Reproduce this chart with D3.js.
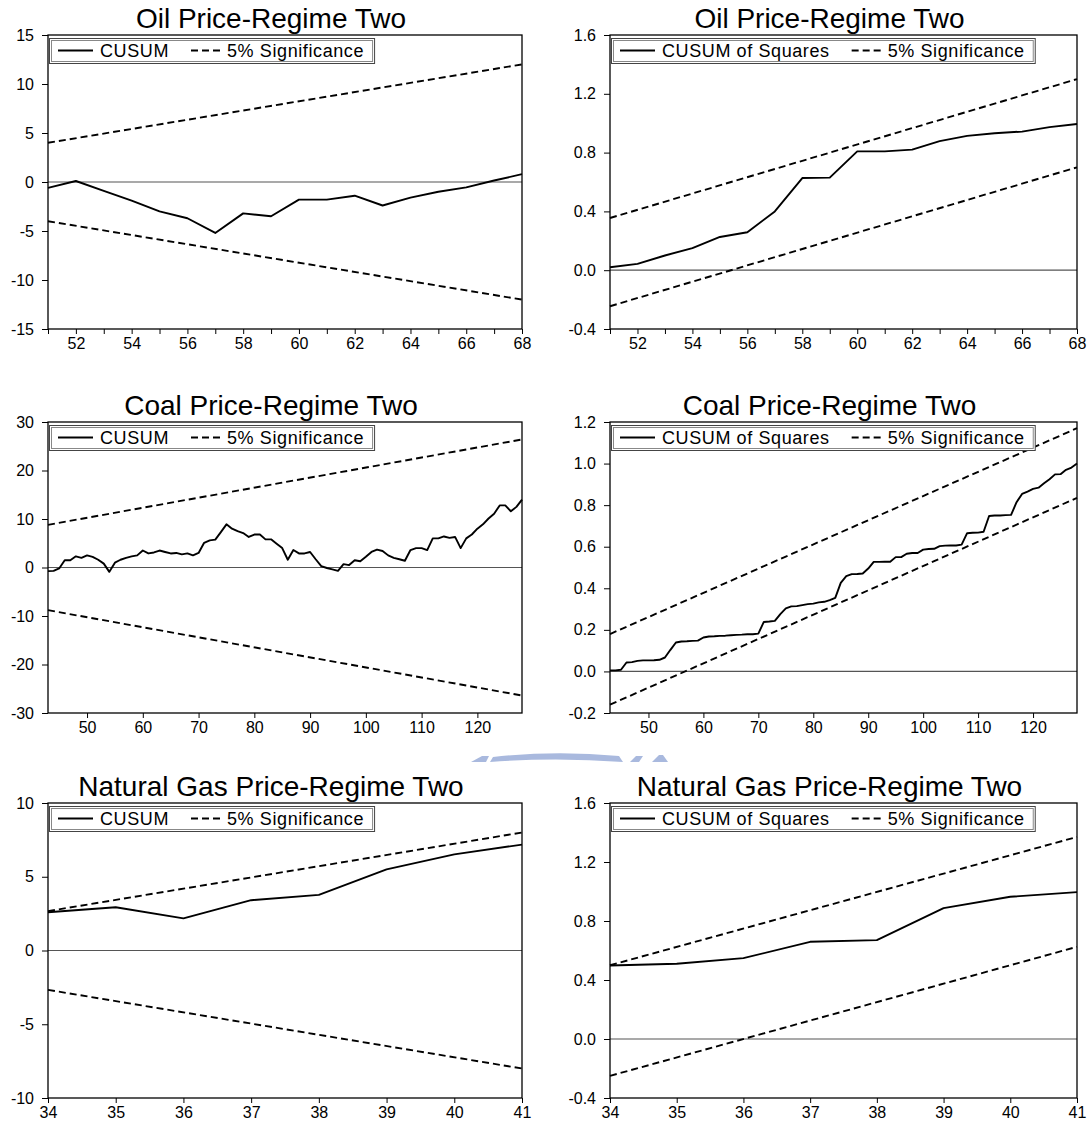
<!DOCTYPE html>
<html><head><meta charset="utf-8">
<script src="https://cdn.jsdelivr.net/npm/d3@7"></script>
<style>
body{margin:0;background:#fff}
svg{display:block}
text{font-family:"Liberation Sans",Arial,Helvetica,sans-serif;fill:#000}
</style>
</head><body>
<svg id="chart" width="1088" height="1126"></svg>
<script>
// ---------- DATA ----------
const titles = ["Oil Price-Regime Two", "Coal Price-Regime Two", "Natural Gas Price-Regime Two"];
const legendCusum = ["CUSUM", "5% Significance"];
const legendCusumSq = ["CUSUM of Squares", "5% Significance"];

// Oil (observations 51..68)
const oilX = [51,52,53,54,55,56,57,58,59,60,61,62,63,64,65,66,67,68];
const oilCusum = [-0.6,0.1,-0.9,-1.9,-3.0,-3.7,-5.2,-3.2,-3.5,-1.8,-1.8,-1.4,-2.4,-1.6,-1.0,-0.55,0.15,0.8];
const oilCusumsq = [0.02,0.043,0.10,0.15,0.226,0.258,0.40,0.627,0.63,0.808,0.808,0.82,0.878,0.914,0.932,0.943,0.973,0.995];
const oilBandX = [51, 68];
const oilCusumUpper = [4.0, 12.0];
const oilCusumLower = [-4.0, -12.0];
const oilSqUpper = [0.355, 1.30];
const oilSqLower = [-0.245, 0.70];

// Coal (observations 43..128)
const coalX = d3.range(43, 129);
const coalCusum = [
  -0.75,-0.7,-0.2,1.5,1.5,2.3,2.0,2.5,2.2,1.6,
  0.8,-0.9,1.0,1.6,2.0,2.3,2.5,3.5,2.9,3.1,
  3.5,3.2,2.9,3.0,2.7,2.9,2.5,3.0,5.1,5.6,
  5.75,7.3,8.9,8.0,7.5,7.1,6.3,6.8,6.8,5.8,
  5.8,4.9,4.0,1.6,3.6,2.9,2.9,3.2,1.7,0.3,
  -0.1,-0.4,-0.7,0.7,0.5,1.5,1.3,2.2,3.2,3.7,
  3.4,2.5,2.0,1.7,1.4,3.6,4.0,4.0,3.6,6.0,
  6.0,6.4,6.1,6.3,4.0,6.0,6.8,8.0,8.9,10.1,
  11.1,12.8,12.8,11.6,12.5,14.0];
const coalCusumsq = [
  0.005,0.005,0.008,0.043,0.045,0.051,0.053,0.053,0.054,0.056,
  0.067,0.104,0.139,0.144,0.145,0.147,0.148,0.163,0.168,0.169,
  0.171,0.172,0.174,0.176,0.177,0.179,0.179,0.182,0.238,0.240,
  0.243,0.276,0.303,0.313,0.314,0.319,0.324,0.326,0.332,0.335,
  0.343,0.354,0.426,0.458,0.468,0.469,0.471,0.495,0.527,0.527,
  0.528,0.528,0.550,0.550,0.566,0.570,0.570,0.586,0.589,0.590,
  0.603,0.605,0.606,0.606,0.610,0.665,0.667,0.668,0.672,0.748,
  0.750,0.750,0.752,0.753,0.814,0.854,0.865,0.878,0.884,0.905,
  0.925,0.948,0.949,0.970,0.981,1.000];
const coalBandX = [43, 128];
const coalCusumUpper = [8.8, 26.4];
const coalCusumLower = [-8.8, -26.4];
const coalSqUpper = [0.18, 1.17];
const coalSqLower = [-0.16, 0.835];

// Natural gas (observations 34..41)
const gasX = [34,35,36,37,38,39,40,41];
const gasCusum = [2.59,2.93,2.18,3.41,3.77,5.5,6.52,7.18];
const gasCusumsq = [0.498,0.51,0.548,0.659,0.67,0.887,0.964,0.996];
const gasBandX = [34, 41];
const gasCusumUpper = [2.67, 8.0];
const gasCusumLower = [-2.67, -8.0];
const gasSqUpper = [0.50, 1.37];
const gasSqLower = [-0.25, 0.625];

// Axis ticks
const oilXTicks = [51,52,53,54,55,56,57,58,59,60,61,62,63,64,65,66,67,68];
const oilXLabels = [52,54,56,58,60,62,64,66,68];
const coalXTicks = [50,60,70,80,90,100,110,120];
const gasXTicks = [34,35,36,37,38,39,40,41];
const oilCusumYTicks = [-15,-10,-5,0,5,10,15];
const coalCusumYTicks = [-30,-20,-10,0,10,20,30];
const gasCusumYTicks = [-10,-5,0,5,10];
const oilSqYTicks = [-0.4,0.0,0.4,0.8,1.2,1.6];
const coalSqYTicks = [-0.2,0.0,0.2,0.4,0.6,0.8,1.0,1.2];
const gasSqYTicks = [-0.4,0.0,0.4,0.8,1.2,1.6];

// ---------- LAYOUT ----------
const rowTop = [35, 422, 803];
const rowBottom = [329, 713, 1098];
const colLeft = [48, 610];
const colRight = [522, 1077];

const panels = [
  {row:0,col:0,title:titles[0],x:oilX,y:oilCusum,bx:oilBandX,up:oilCusumUpper,lo:oilCusumLower,xt:oilXTicks,xl:oilXLabels,yt:oilCusumYTicks,dec:0,leg:legendCusum},
  {row:0,col:1,title:titles[0],x:oilX,y:oilCusumsq,bx:oilBandX,up:oilSqUpper,lo:oilSqLower,xt:oilXTicks,xl:oilXLabels,yt:oilSqYTicks,dec:1,leg:legendCusumSq},
  {row:1,col:0,title:titles[1],x:coalX,y:coalCusum,bx:coalBandX,up:coalCusumUpper,lo:coalCusumLower,xt:coalXTicks,xl:coalXTicks,yt:coalCusumYTicks,dec:0,leg:legendCusum},
  {row:1,col:1,title:titles[1],x:coalX,y:coalCusumsq,bx:coalBandX,up:coalSqUpper,lo:coalSqLower,xt:coalXTicks,xl:coalXTicks,yt:coalSqYTicks,dec:1,leg:legendCusumSq},
  {row:2,col:0,title:titles[2],x:gasX,y:gasCusum,bx:gasBandX,up:gasCusumUpper,lo:gasCusumLower,xt:gasXTicks,xl:gasXTicks,yt:gasCusumYTicks,dec:0,leg:legendCusum},
  {row:2,col:1,title:titles[2],x:gasX,y:gasCusumsq,bx:gasBandX,up:gasSqUpper,lo:gasSqLower,xt:gasXTicks,xl:gasXTicks,yt:gasSqYTicks,dec:1,leg:legendCusumSq}
];

const svg = d3.select("#chart");

// faint watermark fragment between the middle and bottom rows
const wm = svg.append("g").attr("fill", "#a9b9de");
wm.append("path").attr("d", "M471,762 L482,756 L489,756 L486,762 Z");
wm.append("path").attr("d", "M490,762 L493,757 Q555,750 619,756 L623,762 Q555,757 490,762 Z");
wm.append("path").attr("d", "M630,762 L636,756 L643,756 L639,762 Z");
wm.append("path").attr("d", "M652,762 L659,755 L663,755 L668,762 Z");

panels.forEach(p => {
  const L = colLeft[p.col], R = colRight[p.col], T = rowTop[p.row], B = rowBottom[p.row];
  const x = d3.scaleLinear().domain([p.x[0], p.x[p.x.length-1]]).range([L, R]);
  const y = d3.scaleLinear().domain([p.yt[0], p.yt[p.yt.length-1]]).range([B, T]);
  const g = svg.append("g");

  // title
  g.append("text").attr("x", (L - 28 + R) / 2).attr("y", T - 7)
    .attr("text-anchor", "middle").attr("font-size", 28).text(p.title);

  // zero line
  g.append("line").attr("x1", L).attr("x2", R).attr("y1", y(0)).attr("y2", y(0))
    .attr("stroke", "#555").attr("stroke-width", 1.2);

  // significance bands
  const line = d3.line().x(d => x(d[0])).y(d => y(d[1]));
  [p.up, p.lo].forEach(band => {
    g.append("path").attr("d", line(p.bx.map((v, i) => [v, band[i]])))
      .attr("fill", "none").attr("stroke", "#000").attr("stroke-width", 1.9)
      .attr("stroke-dasharray", "7,4");
  });

  // main series
  g.append("path").attr("d", line(p.x.map((v, i) => [v, p.y[i]])))
    .attr("fill", "none").attr("stroke", "#000").attr("stroke-width", 1.9)
    .attr("stroke-linejoin", "round");

  // axes
  const fmt = p.dec ? (d => d.toFixed(1)) : (d => String(d));
  const yAx = g.append("g").attr("transform", `translate(${L},0)`)
    .call(d3.axisLeft(y).tickValues(p.yt).tickSize(6).tickPadding(8).tickFormat(fmt));
  const labSet = new Set(p.xl);
  const xAx = g.append("g").attr("transform", `translate(0,${B})`)
    .call(d3.axisBottom(x).tickValues(p.xt).tickSize(5).tickPadding(4)
      .tickFormat(d => labSet.has(d) ? String(d) : ""));
  [yAx, xAx].forEach(a => {
    a.select(".domain").remove();
    a.selectAll("text").attr("font-size", 16).attr("font-family", '"Liberation Sans",Arial,sans-serif').attr("fill", "#000");
    a.selectAll("line").attr("stroke", "#000");
  });

  // frame
  g.append("rect").attr("x", L).attr("y", T).attr("width", R - L).attr("height", B - T)
    .attr("fill", "none").attr("stroke", "#000").attr("stroke-width", 1.3);

  // legend
  const lg = g.append("g").attr("transform", `translate(${L + 1},${T + 3})`);
  const fs = 18;
  const mid = 12.5;
  const padL = 9, seg = 35, gap1 = 7, gap2 = 22, dseg = 31, gap3 = 5, padR = 10;
  lg.append("line").attr("x1", padL).attr("x2", padL + seg).attr("y1", mid).attr("y2", mid)
    .attr("stroke", "#000").attr("stroke-width", 1.9);
  const t1 = lg.append("text").attr("x", padL + seg + gap1).attr("y", mid + 6.5)
    .attr("font-size", fs).attr("letter-spacing", 0.6).text(p.leg[0]);
  const w1 = t1.node().getComputedTextLength();
  const dx = padL + seg + gap1 + w1 + gap2;
  lg.append("line").attr("x1", dx).attr("x2", dx + dseg).attr("y1", mid).attr("y2", mid)
    .attr("stroke", "#000").attr("stroke-width", 1.9).attr("stroke-dasharray", "7,4");
  const t2 = lg.append("text").attr("x", dx + dseg + gap3).attr("y", mid + 6.5)
    .attr("font-size", fs).attr("letter-spacing", 0.6).text(p.leg[1]);
  const w2 = t2.node().getComputedTextLength();
  const W = dx + dseg + gap3 + w2 + padR;
  lg.insert("rect", ":first-child").attr("x", 0.5).attr("y", 0.5).attr("width", W).attr("height", 25)
    .attr("fill", "#fff").attr("stroke", "#444").attr("stroke-width", 1);
  lg.insert("rect", ":nth-child(2)").attr("x", 2.5).attr("y", 2.5).attr("width", W - 4).attr("height", 21)
    .attr("fill", "none").attr("stroke", "#888").attr("stroke-width", 1);
});
</script>
</body></html>
